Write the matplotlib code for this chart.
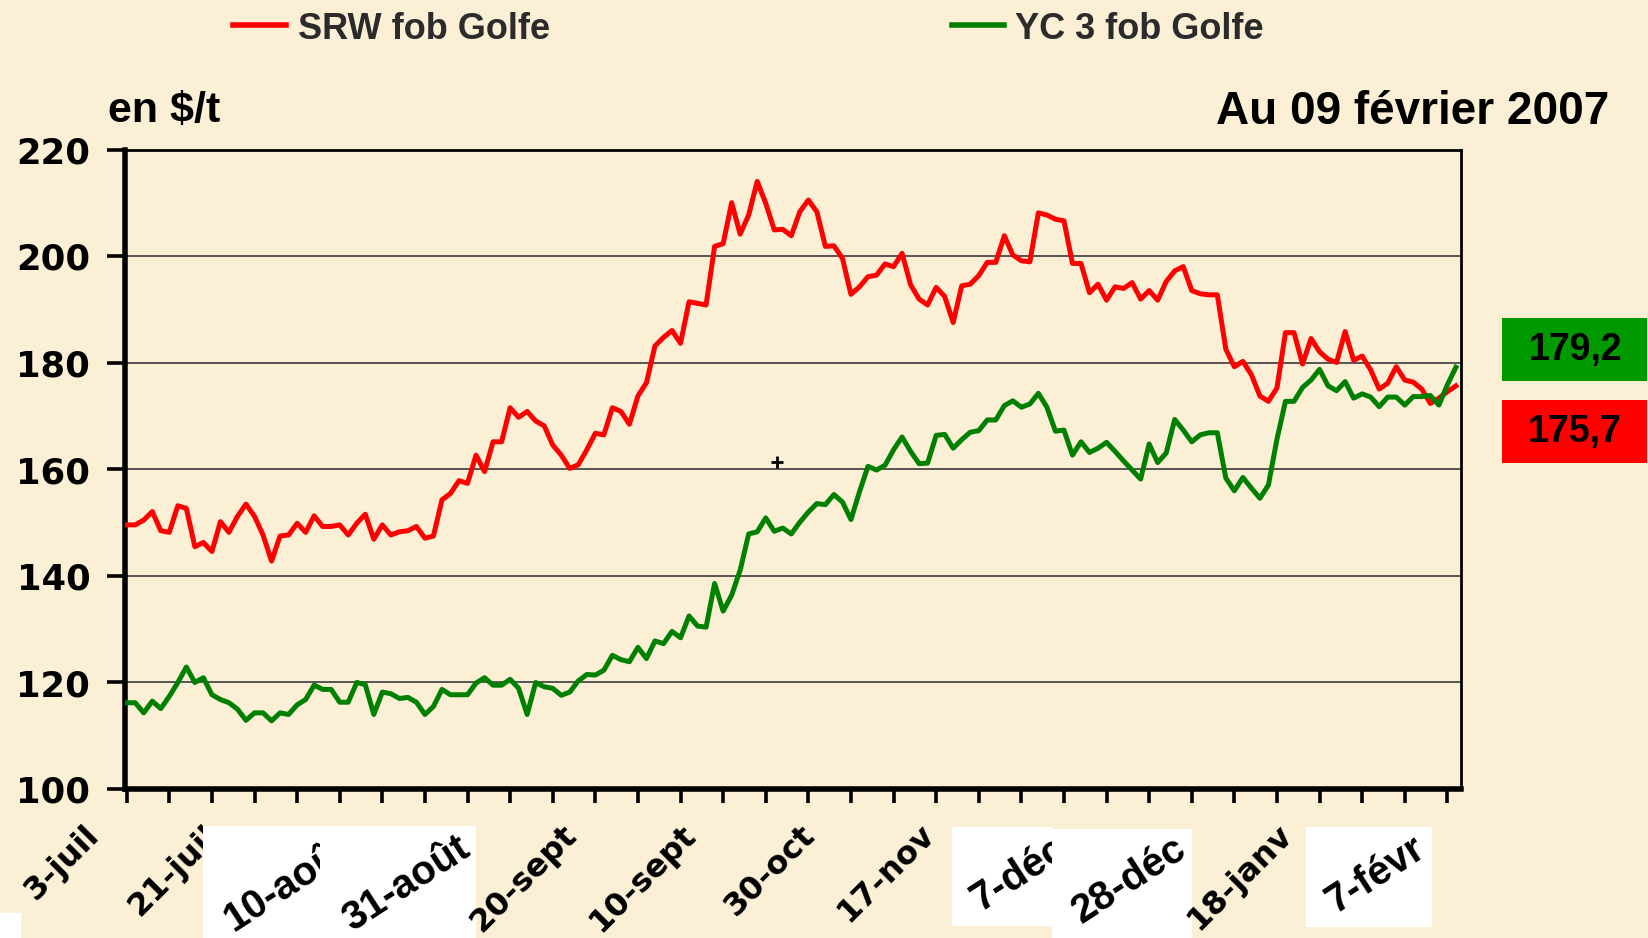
import matplotlib
matplotlib.use("Agg")
import matplotlib.pyplot as plt
import matplotlib.transforms as mtransforms
from matplotlib.patches import Rectangle
from matplotlib.lines import Line2D

# ---------------- data ----------------
srw = [149.6, 149.6, 150.5, 152.1, 148.5, 148.2, 153.2, 152.7, 145.5, 146.3,
       144.6, 150.2, 148.2, 151.2, 153.5, 151.2, 147.7, 142.8, 147.5, 147.7,
       149.9, 148.2, 151.3, 149.3, 149.3, 149.6, 147.7, 149.9, 151.6, 146.9,
       149.6, 147.7, 148.3, 148.5, 149.3, 147.1, 147.5, 154.3, 155.5, 157.9,
       157.4, 162.7, 159.6, 165.2, 165.2, 171.6, 169.8, 170.9, 169.1, 168.2,
       164.6, 162.7, 160.2, 160.9, 163.7, 166.8,
       166.5, 171.6, 170.9, 168.5, 173.8, 176.3, 183.2, 184.8, 186.1, 183.7,
       191.5, 191.2, 190.9, 201.9, 202.4, 210.1, 204.2, 207.8, 214.1, 210.0,
       205.0, 205.1, 203.9, 208.4, 210.6, 208.4, 201.9, 202.0, 199.7, 192.9,
       194.3, 196.2, 196.5, 198.6, 198.1, 200.6, 194.7, 192.0, 190.9, 194.2,
       192.5, 187.6, 194.5, 194.8, 196.4, 198.9, 198.9, 203.9, 200.3, 199.2,
       199.0, 208.2, 207.8,
       207.0, 206.7, 198.7, 198.7, 193.2, 194.8, 191.8, 194.3, 194.0, 195.1,
       192.0, 193.6, 191.8, 195.3, 197.3, 198.1, 193.6, 193.0, 192.8, 192.8,
       182.6, 179.3, 180.3, 177.8, 173.8, 172.8, 175.3, 185.7, 185.7, 179.8,
       184.6, 182.1, 180.7, 180.1, 185.9, 180.5, 181.3, 178.7, 175.1, 176.2,
       179.3, 176.8, 176.4, 175.1, 172.4, 173.4, 174.6, 175.7]

yc3 = [116.2, 116.2, 114.3, 116.5, 115.1, 117.4, 120.0, 122.9, 120.0, 120.9,
       117.7, 116.8, 116.2, 115.0, 112.9, 114.3, 114.3, 112.8, 114.3, 114.0,
       115.8, 116.8, 119.5, 118.7, 118.7, 116.3, 116.3, 120.0, 119.6, 114.0,
       118.2, 117.9, 117.0, 117.2, 116.3, 114.0, 115.5, 118.7, 117.7, 117.7,
       117.7, 119.9, 120.9, 119.5, 119.5, 120.6, 118.9, 114.0, 120.0, 119.2,
       118.9, 117.6, 118.2, 120.3, 121.5, 121.4,
       122.3, 125.1, 124.3, 123.9, 126.6, 124.5, 127.8, 127.3, 129.6, 128.4,
       132.5, 130.6, 130.4, 138.6, 133.4, 136.4, 141.1, 147.9, 148.3, 150.9,
       148.4, 149.0, 147.9, 150.1, 152.0, 153.6, 153.4, 155.3, 153.9, 150.6,
       155.8, 160.6, 159.9, 160.8, 163.7, 166.1, 163.4, 161.1, 161.2, 166.4,
       166.6, 164.0, 165.6, 167.0, 167.3, 169.3, 169.3, 172.0, 172.9, 171.7,
       172.3, 174.3, 171.7,
       167.2, 167.4, 162.7, 165.2, 163.2, 164.0, 165.1, 163.4, 161.6, 159.9,
       158.2, 164.8, 161.3, 163.1, 169.4, 167.4, 165.2, 166.5, 166.9, 166.9,
       158.4, 156.0, 158.5, 156.5, 154.6, 157.1, 165.7, 172.8, 172.8, 175.4,
       176.8, 178.8, 175.7, 174.8, 176.5, 173.4, 174.2, 173.6, 171.8, 173.6,
       173.6, 172.1, 173.7, 173.7, 173.9, 172.1, 175.9, 179.2]

date_labels = ["3-juil", "21-juil", "10-août", "31-août", "20-sept", "10-sept",
               "30-oct", "17-nov", "7-déc", "28-déc", "18-janv", "7-févr"]
label_step = 14
tick_step = 5
y_ticks = [100, 120, 140, 160, 180, 200, 220]
series_names = ["SRW fob Golfe", "YC 3 fob Golfe"]
last_values = ["179,2", "175,7"]
unit_text = "en $/t"
date_text = "Au 09 février 2007"

# ---------------- figure ----------------
W, H = 1649, 938
fig = plt.figure(figsize=(W / 100, H / 100), dpi=100)
BG = "#FBEFD6"
fig.patch.set_facecolor(BG)
RED = "#FF0000"
GREEN = "#008000"


def fx(x):
    return x / W


def fy(y):
    return 1 - y / H


ax = fig.add_axes([fx(125), fy(789), fx(1461) - fx(125), fy(150) - fy(789)])
ax.set_facecolor(BG)

xs = list(range(len(srw)))
ax.plot(xs, srw, color=RED, lw=3.6, solid_joinstyle="round", zorder=3)
ax.plot(xs, yc3, color=GREEN, lw=3.6, solid_joinstyle="round", zorder=3)

ax.set_xlim(-0.2, 156.6)
ax.set_ylim(100, 220)
ax.set_yticks(y_ticks)
ax.set_yticklabels([str(v) for v in y_ticks])
ax.yaxis.grid(True, color="#3a3a3a", lw=1.2)
ax.set_axisbelow(True)

for side, lw in [("left", 4), ("bottom", 4), ("top", 2), ("right", 2)]:
    ax.spines[side].set_linewidth(lw)
    ax.spines[side].set_color("black")

ax.tick_params(axis="y", length=13, width=2.6, direction="out", pad=12,
               labelsize=25.5, colors="black")
for lab in ax.get_yticklabels():
    lab.set_fontfamily("DejaVu Sans")
    lab.set_fontweight("bold")

ax.set_xticks(list(range(0, len(srw), tick_step)))
ax.set_xticklabels([])
ax.tick_params(axis="x", length=10, width=2.6, direction="out")

# white patches over some labels (as in the reference)
boxes = {
    "A": (203, 826, 476, 938),
    "B": (952, 827, 1052, 926),
    "C": (1052, 829, 1192, 938),
    "D": (1306, 827, 1432, 927),
    "E": (0, 913, 21, 938),
}
for key, (x0, y0, x1, y1) in boxes.items():
    fig.patches.append(Rectangle((fx(x0), fy(y1)), fx(x1) - fx(x0), fy(y0) - fy(y1),
                                 transform=fig.transFigure, facecolor="white",
                                 edgecolor="none", zorder=5))

# which labels are shown inside a white patch, with their visible region
box_labels = {2: (203, 826, 320, 938), 3: boxes["A"], 8: boxes["B"],
              9: boxes["C"], 11: boxes["D"]}
under_patch = {1}   # label partly hidden by a patch

blend = mtransforms.blended_transform_factory(ax.transData, ax.transAxes)
label_pos = [i * label_step for i in range(len(date_labels))]

# rotated date labels (bold, on the background)
for li, (pos, lab) in enumerate(zip(label_pos, date_labels)):
    if li in box_labels:
        continue
    tr = blend + mtransforms.ScaledTranslation(-32 / 100, -41 / 100, fig.dpi_scale_trans)
    t = fig.text(0, 0, lab, rotation=45, rotation_mode="anchor",
                 ha="right", va="center", fontsize=23, fontweight="bold",
                 family="DejaVu Sans", color="black",
                 zorder=4 if li in under_patch else 7)
    t.set_transform(tr)
    t.set_position((pos, 0))

# labels drawn inside the white patches
for li, (x0, y0, x1, y1) in box_labels.items():
    tr = blend + mtransforms.ScaledTranslation(-18 / 100, -56 / 100, fig.dpi_scale_trans)
    t = fig.text(0, 0, date_labels[li], rotation=33, rotation_mode="anchor",
                 ha="right", va="center", fontsize=29, fontweight="bold",
                 family="Liberation Sans", color="black", zorder=6)
    t.set_transform(tr)
    t.set_position((label_pos[li], 0))
    clip = mtransforms.TransformedBbox(
        mtransforms.Bbox.from_extents(fx(x0), fy(y1), fx(x1), fy(y0)), fig.transFigure)
    t.set_clip_box(clip)
    t.set_clip_on(True)

# legend at the top
fig.lines.append(Line2D([fx(233), fx(286)], [fy(25), fy(25)], color=RED, lw=4,
                        transform=fig.transFigure))
fig.text(fx(298), fy(39), series_names[0], fontsize=26, fontweight="bold",
         family="Liberation Sans", color="#2b2b2b", va="baseline", ha="left")
fig.lines.append(Line2D([fx(952), fx(1004)], [fy(25), fy(25)], color=GREEN, lw=4,
                        transform=fig.transFigure))
fig.text(fx(1015), fy(39), series_names[1], fontsize=26, fontweight="bold",
         family="Liberation Sans", color="#2b2b2b", va="baseline", ha="left")

# unit and date
fig.text(fx(108), fy(122), unit_text, fontsize=31, fontweight="bold",
         family="Liberation Sans", color="black", va="baseline", ha="left")
fig.text(fx(1609), fy(124), date_text, fontsize=33, fontweight="bold",
         family="Liberation Sans", color="black", va="baseline", ha="right")

# last-value boxes
for (y0, y1), col, txt in [((318, 381), "#009A00", last_values[0]),
                           ((400, 463), RED, last_values[1])]:
    fig.patches.append(Rectangle((fx(1502), fy(y1)), fx(1647) - fx(1502), fy(y0) - fy(y1),
                                 transform=fig.transFigure, facecolor=col,
                                 edgecolor="none", zorder=5))
    fig.text(fx(1575), (fy(y0) + fy(y1)) / 2, txt, fontsize=27, fontweight="bold",
             family="Liberation Sans", color="black", ha="center", va="center",
             zorder=6)

# small cross mark
fig.lines.append(Line2D([fx(777)], [fy(462)], marker="+", ms=9, mew=2,
                        color="black", transform=fig.transFigure))

fig.savefig("out.png", dpi=100, facecolor=BG)
